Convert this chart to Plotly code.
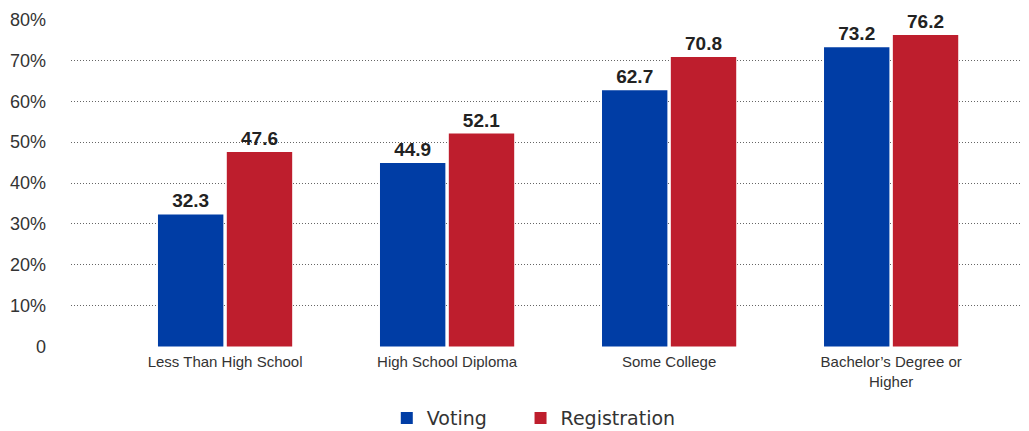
import plotly.graph_objects as go

categories = ["Less Than High School", "High School Diploma", "Some College", "Bachelor’s Degree or<br>Higher"]
voting = [32.3, 44.9, 62.7, 73.2]
registration = [47.6, 52.1, 70.8, 76.2]
tick_vals = [0, 10, 20, 30, 40, 50, 60, 70, 80]
tick_text = ["0", "10%", "20%", "30%", "40%", "50%", "60%", "70%", "80%"]

BLUE = "#003DA5"
RED = "#BE1E2D"

fig = go.Figure()
for name, vals, col, leg in [("Voting", voting, BLUE, "legend"), ("Registration", registration, RED, "legend2")]:
    fig.add_trace(go.Bar(
        name=name, x=categories, y=vals, marker=dict(color=col, line=dict(width=0)),
        text=[f"{v:.1f}" for v in vals], textposition="outside",
        textfont=dict(family="Liberation Sans", size=19, color="#222222"),
        texttemplate="<b>%{text}</b>", cliponaxis=False, legend=leg,
    ))

legend_common = dict(orientation="h", xanchor="left", xref="container", y=-0.159, yanchor="top",
                     font=dict(family="DejaVu Sans", size=19, color="#333333"),
                     itemwidth=30, itemsizing="constant", bgcolor="rgba(0,0,0,0)")

fig.update_layout(
    width=1021, height=423,
    margin=dict(l=63, r=0, t=11, b=84, autoexpand=False),
    paper_bgcolor="white", plot_bgcolor="white",
    barmode="group", bargap=0.38, bargroupgap=0.05,
    font=dict(family="Liberation Sans", color="#333333"),
    showlegend=True,
    legend=dict(x=0.371, **legend_common),
    legend2=dict(x=0.502, **legend_common),
    xaxis=dict(type="category", range=[-0.694, 3.621], showgrid=False, showline=False, automargin=False,
               ticks="", tickfont=dict(size=15, color="#333333"), ticklabelstandoff=4),
    yaxis=dict(range=[-0.1, 80.1], tickvals=tick_vals, ticktext=tick_text, automargin=False,
               showgrid=True, gridcolor="#666666", griddash="1px,2px", gridwidth=1,
               zeroline=False, showline=False, ticks="",
               tickfont=dict(size=18, color="#333333"), ticklabelstandoff=24),
)

fig.write_html("out.html")
